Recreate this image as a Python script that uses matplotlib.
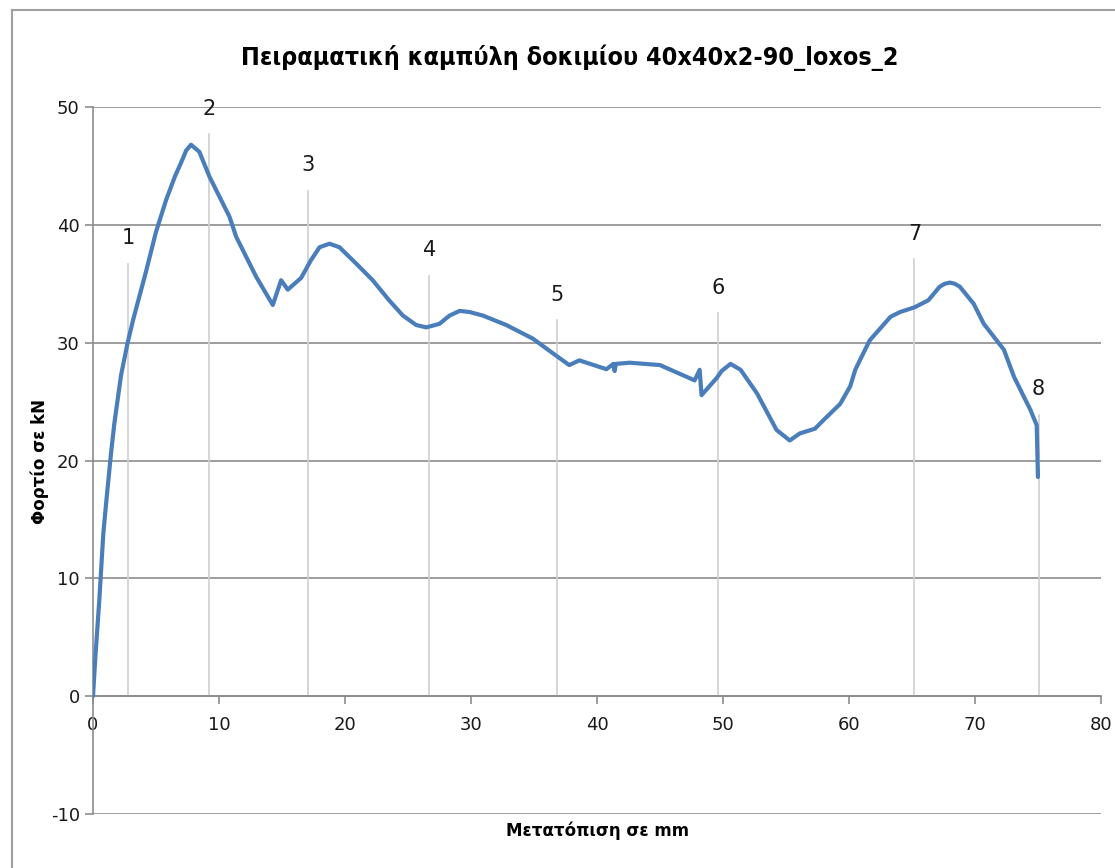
import matplotlib.pyplot as plt
from matplotlib.lines import Line2D

# --- Data ---
disp = [0.0, 0.2, 0.5, 0.82, 1.08, 1.43, 1.69, 2.22, 2.75, 3.2, 4.2,
        5.0, 5.8, 6.5, 7.0, 7.39, 7.78,
        8.44, 9.24, 10.83, 11.36, 12.95, 14.27, 14.93, 15.46, 16.52, 17.3,
        17.98, 18.77, 19.56, 20.9, 22.2, 23.5, 24.6, 25.65, 26.45, 27.5,
        28.3, 29.1, 29.9, 30.95, 32.8,
        34.9, 36.5, 37.8, 38.6, 40.75, 41.3, 41.4, 41.5, 42.6, 45.0, 46.8,
        47.75, 48.15, 48.3, 49.5, 49.9, 50.6, 51.4, 52.7, 54.25, 55.3, 56.1,
        57.3, 57.95, 59.3, 60.1, 60.5, 61.0, 61.65, 63.3, 64.05, 65.2, 66.3,
        67.2, 67.6, 68.0, 68.4, 68.8, 69.9, 70.7, 72.3, 73.1, 74.4, 74.9, 75.0]
load = [0.0, 3.5, 8.15, 13.8, 16.8, 20.6, 23.1, 27.2, 30.0, 32.0, 36.0,
        39.4, 42.1, 44.1, 45.3, 46.3, 46.8,
        46.2, 44.1, 40.7, 39.0, 35.6, 33.2, 35.3, 34.5, 35.5, 37.0,
        38.1, 38.4, 38.1, 36.7, 35.3, 33.6, 32.3, 31.5, 31.3, 31.6,
        32.3, 32.7, 32.6, 32.3, 31.5,
        30.35, 29.1, 28.1, 28.5, 27.75, 28.2, 27.6, 28.2, 28.3, 28.1, 27.25,
        26.8, 27.7, 25.55, 27.0, 27.6, 28.2, 27.7, 25.7, 22.6, 21.7, 22.3,
        22.7, 23.4, 24.8, 26.3, 27.7, 28.8, 30.2, 32.2, 32.6, 33.0, 33.6,
        34.75, 35.0, 35.1, 35.0, 34.75, 33.3, 31.6, 29.4, 27.1, 24.3, 23.0,
        18.6]

marker_labels = ["1", "2", "3", "4", "5", "6", "7", "8"]
marker_x = [2.8, 9.2, 17.1, 26.7, 36.8, 49.6, 65.2, 75.05]
marker_top = [36.7, 47.7, 42.9, 35.7, 31.9, 32.5, 37.1, 23.9]

title = "Πειραματική καμπύλη δοκιμίου 40x40x2-90_loxos_2"
xlabel = "Μετατόπιση σε mm"
ylabel = "Φορτίο σε kN"

plt.rcParams["font.family"] = ["DejaVu Sans"]
plt.rcParams["axes.unicode_minus"] = False

fig = plt.figure(figsize=(11.15, 8.68), dpi=100)
ax = fig.add_axes([0.0834, 0.0622, 0.904, 0.8145])

# outer chart frame (left and top edges visible)
fig.add_artist(Line2D([0.0105, 0.0105], [0.0, 0.989], transform=fig.transFigure,
                      color="#a0a0a0", lw=1.5))
fig.add_artist(Line2D([0.0105, 1.0], [0.989, 0.989], transform=fig.transFigure,
                      color="#a0a0a0", lw=1.5))

# vertical marker lines with number labels
for lab, mx, mt in zip(marker_labels, marker_x, marker_top):
    ax.plot([mx, mx], [0, mt], color="#d0d0d0", lw=1.2, zorder=1)
    ax.text(mx, mt + 1.3, lab, ha="center", va="bottom", fontsize=15,
            color="#1a1a1a")

ax.plot(disp, load, color="#4a7ebb", lw=3, solid_joinstyle="round",
        solid_capstyle="round", zorder=3)

ax.set_xlim(0, 80)
ax.set_ylim(-10, 50)
ax.set_xticks(range(0, 81, 10))
ax.set_yticks(range(-10, 51, 10))
ax.grid(axis="y", color="#8c8c8c", lw=1.2)
ax.set_axisbelow(True)

for s in ["top", "right"]:
    ax.spines[s].set_visible(False)
ax.spines["bottom"].set_position(("data", 0))
ax.spines["bottom"].set_color("#8c8c8c")
ax.spines["left"].set_color("#8c8c8c")
ax.spines["bottom"].set_linewidth(1.2)
ax.spines["left"].set_linewidth(1.2)
ax.tick_params(axis="both", colors="#8c8c8c", labelcolor="#1a1a1a",
               labelsize=13, length=6, width=1.2)
ax.tick_params(axis="x", pad=8)

fig.text(0.511, 0.934, title, ha="center", va="center", fontsize=18,
         fontweight="bold", family=["DejaVu Sans Condensed", "DejaVu Sans"],
         fontstretch="condensed")
fig.text(0.536, 0.043, xlabel, ha="center", va="center", fontsize=12,
         fontweight="bold")
fig.text(0.036, 0.468, ylabel, ha="center", va="center", fontsize=12,
         fontweight="bold", rotation=90)

fig.savefig("out.png", dpi=100)
